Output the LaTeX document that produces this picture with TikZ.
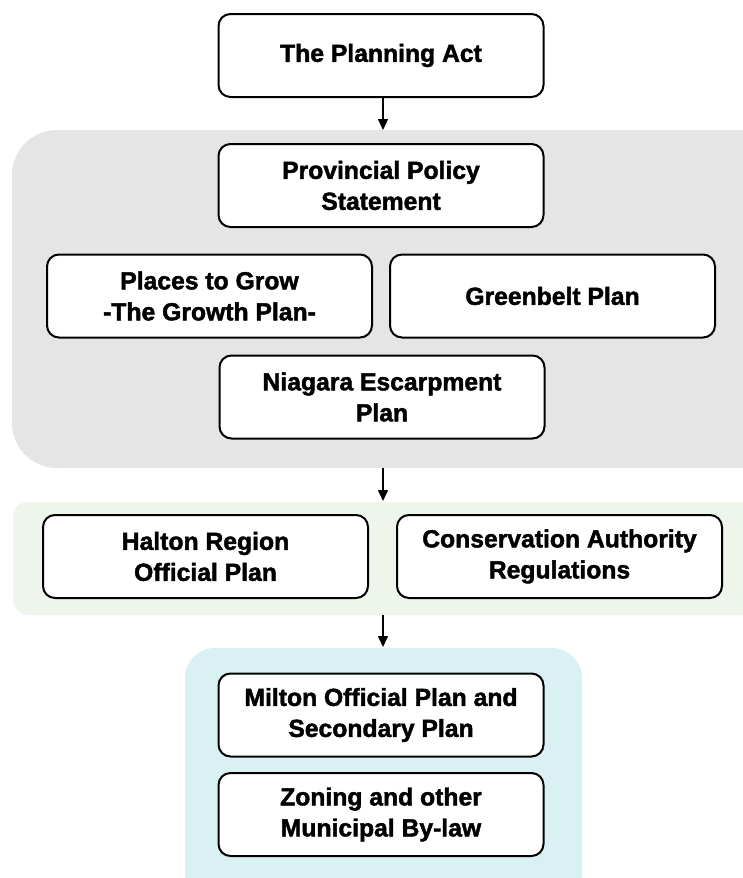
\documentclass[tikz,border=0pt]{standalone}
\usepackage{fontspec}
\newfontfamily\heavyfont{Liberation Sans Bold}[FakeBold=1.8]
\usetikzlibrary{arrows.meta}
\definecolor{graybg}{HTML}{E5E5E5}
\definecolor{greenbg}{HTML}{EEF6EB}
\definecolor{bluebg}{HTML}{D9F1F3}
\tikzset{
  planbox/.style={draw=black, line width=2pt, rounded corners=12pt, fill=white,
    minimum width=325pt, minimum height=83pt, align=center,
    font=\fontsize{24.7}{31}\heavyfont, inner sep=0pt},
  flow/.style={-{Triangle[width=10pt,length=11pt]}, line width=1.5pt}
}
\begin{document}
\begin{tikzpicture}[x=1pt,y=-1pt]
\useasboundingbox (0,0) rectangle (743,878);
\clip (0,0) rectangle (743,878);
% backgrounds
\fill[graybg, rounded corners=45pt] (12,130) rectangle (800,468);
\fill[greenbg, rounded corners=15pt] (13,502) rectangle (800,615);
\fill[bluebg, rounded corners=30pt] (185,648) rectangle (582,920);
\coordinate (g1) at (383,130);
\coordinate (g2top) at (383,468);
\coordinate (g2) at (383,501);
\coordinate (g3top) at (383,615);
\coordinate (g3) at (383,647);
% boxes
\node[planbox] (act) at (381,55.5) {The Planning Act};
\node[planbox] (pps) at (381,185.5) {Provincial Policy\\Statement};
\node[planbox] (grow) at (209.5,296) {Places to Grow\\-The Growth Plan-};
\node[planbox] (green) at (552.5,296) {Greenbelt Plan};
\node[planbox] (niag) at (382,397) {Niagara Escarpment\\Plan};
\node[planbox] (halton) at (205.5,556.5) {Halton Region\\Official Plan};
\node[planbox] (cons) at (559.5,556.5) {Conservation Authority\\Regulations};
\node[planbox] (milton) at (381,715) {Milton Official Plan and\\Secondary Plan};
\node[planbox] (zon) at (381,814.5) {Zoning and other\\Municipal By-law};
% arrows
\draw[flow] (act.south -| g1) -- (g1);
\draw[flow] (g2top) -- (g2);
\draw[flow] (g3top) -- (g3);
\end{tikzpicture}
\end{document}
